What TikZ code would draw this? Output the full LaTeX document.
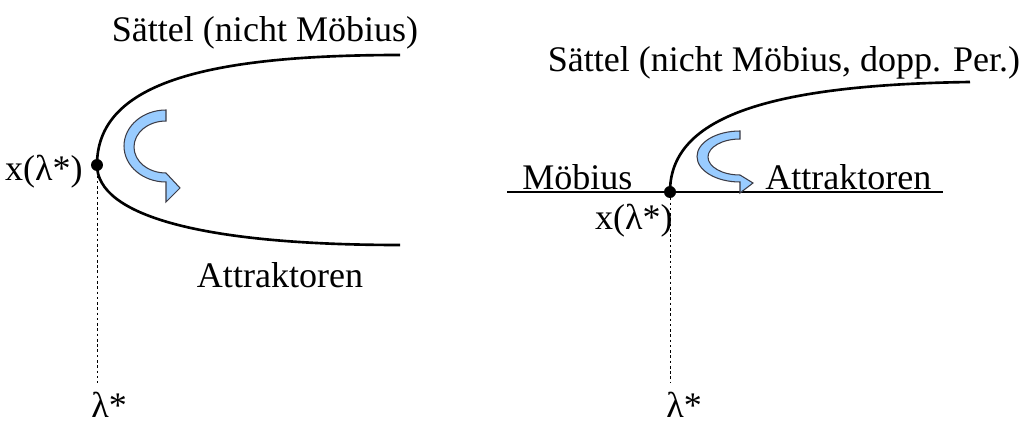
\documentclass[tikz,border=0pt]{standalone}
\usepackage{fontspec}
\setmainfont{Liberation Serif}
\usepackage{xcolor}
\definecolor{turnblue}{RGB}{153,204,255}
\definecolor{turnedge}{RGB}{60,60,70}
\tikzset{
  lbl/.style={inner sep=0pt, font=\fontsize{20.5}{24}\selectfont},
  branch/.style={line width=1.5pt},
  marker/.style={circle, fill=black, inner sep=0pt, minimum size=0.24cm},
  guide/.style={line width=0.55pt, dash pattern=on 1.5pt off 1.5pt},
  turn/.style={fill=turnblue, draw=turnedge, line width=0.6pt}
}

\begin{document}
\begin{tikzpicture}[x=0.02cm,y=-0.02cm]
\useasboundingbox (0,0) rectangle (1032,429);

% ── Left: fold ────────────────────────────────────────────────────────────────
\coordinate (pL) at (97,165);
\coordinate (topL) at (400,55);
\coordinate (botL) at (400,245);
\coordinate (footL) at (97,383);
\draw[guide] (pL) -- (footL);
\draw[branch] (pL) .. controls (97,85) and (200,55) .. (topL);
\draw[branch] (pL) .. controls (97,215) and (200,245) .. (botL);
\node[marker] (dotL) at (pL) {};

\draw[turn] (166,110) arc[start angle=270, end angle=90, x radius=42, y radius=36]
      -- (166,202) -- (180,188) -- (166,173)
      arc[start angle=90, end angle=270, x radius=32, y radius=26] -- cycle;

\node[lbl, anchor=base] (titleL) at (265,42) {Sättel (nicht Möbius)};
\node[lbl, anchor=base east] (xL) at (83,181) {x(λ*)};
\node[lbl, anchor=base] (attrL) at (280,287) {Attraktoren};
\node[lbl, anchor=base west] (lamL) at (91,417) {λ*};

% ── Right: period doubling ───────────────────────────────────────────────────
\coordinate (pR) at (670,192);
\coordinate (lineW) at (507,192);
\coordinate (lineE) at (943,192);
\coordinate (topR) at (970,82);
\coordinate (footR) at (670,383);
\draw[guide] (pR) -- (footR);
\draw[branch] (lineW) -- (lineE);
\draw[branch] (pR) .. controls (670,120) and (760,85) .. (topR);
\node[marker] (dotR) at (pR) {};

\draw[turn] (740,131) arc[start angle=270, end angle=90, x radius=43, y radius=25.5]
      -- (740,193) -- (753,183) -- (740,175)
      arc[start angle=90, end angle=270, x radius=32, y radius=18] -- cycle;

\node[lbl, anchor=base] (titleR) at (784,72) {Sättel (nicht Möbius, dopp. Per.)};
\node[lbl, anchor=base west] (moebR) at (522,190) {Möbius};
\node[lbl, anchor=base west] (attrR) at (765,190) {Attraktoren};
\node[lbl, anchor=base east] (xR) at (673,230) {x(λ*)};
\node[lbl, anchor=base west] (lamR) at (666,417) {λ*};

\end{tikzpicture}
\end{document}
